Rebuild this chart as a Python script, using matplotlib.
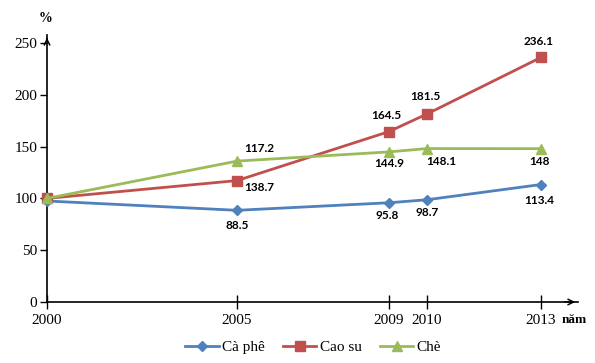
import matplotlib.pyplot as plt

years = [2000, 2005, 2009, 2010, 2013]
ca_phe = [97.5, 88.5, 95.8, 98.7, 113.4]
cao_su = [100, 117.2, 164.5, 181.5, 236.1]
che = [100, 136.0, 144.9, 148.1, 148]

# labels as printed on the original chart
ca_phe_labels = [None, "88.5", "95.8", "98.7", "113.4"]
cao_su_labels = [None, "138.7", "164.5", "181.5", "236.1"]
che_labels = [None, "117.2", "144.9", "148.1", "148"]

W, H = 595, 363
fig = plt.figure(figsize=(W / 100, H / 100), dpi=100)
x0, x1, y0, y1 = 47, 578, 302, 35
ax = fig.add_axes([x0 / W, (H - y0) / H, (x1 - x0) / W, (y0 - y1) / H])
ax.set_xlim(2000, 2000 + (x1 - x0) / 38.0)
ax.set_ylim(0, (y0 - y1) / 1.036)

for s in ['top', 'right']:
    ax.spines[s].set_visible(False)
ax.spines['left'].set_linewidth(1.2)
ax.spines['bottom'].set_linewidth(1.2)
# axis arrows
ax.annotate('', xy=(1, 0), xycoords='axes fraction', xytext=(0.97, 0),
            arrowprops=dict(arrowstyle='->', lw=1.1, color='black'))
ax.annotate('', xy=(0, 1), xycoords='axes fraction', xytext=(0, 0.97),
            arrowprops=dict(arrowstyle='->', lw=1.1, color='black'))

serif = 'Liberation Serif'
ax.set_xticks(years)
ax.set_xticklabels([str(y) for y in years], fontfamily=serif, fontsize=11)
ax.set_yticks([0, 50, 100, 150, 200, 250])
ax.set_yticklabels(['0', '50', '100', '150', '200', '250'], fontfamily=serif, fontsize=11)
ax.tick_params(axis='x', direction='inout', length=10, width=1, pad=4)
ax.tick_params(axis='y', direction='out', length=5, width=1, pad=2)

c_blue, c_red, c_green = '#4F81BD', '#C0504D', '#9BBB59'
ax.plot(years, ca_phe, color=c_blue, lw=2, marker='D', ms=5.5, label='Cà phê', clip_on=False, zorder=3)
ax.plot(years, cao_su, color=c_red, lw=2, marker='s', ms=7, label='Cao su', clip_on=False, zorder=3)
ax.plot(years, che, color=c_green, lw=2, marker='^', ms=7.5, label='Chè', clip_on=False, zorder=4)

lab_kw = dict(textcoords='offset pixels', ha='center', va='center',
              fontsize=8.5, fontweight='bold', fontfamily='Lato')

def put_labels(vals, labels, offsets):
    for x, v, t, off in zip(years, vals, labels, offsets):
        if t:
            ax.annotate(t, (x, v), xytext=off, **lab_kw)

put_labels(ca_phe, ca_phe_labels, [None, (0, -15), (-2, -13), (0, -13), (-2, -16)])
put_labels(cao_su, cao_su_labels, [None, (22, -7), (-3, 16), (-2, 17), (-2, 16)])
put_labels(che, che_labels, [None, (22, 13), (0, -12), (14, -13), (-2, -13)])

fig.text(46 / W, 1 - 18 / H, '%', fontfamily=serif, fontweight='bold', fontsize=10,
         ha='center', va='center')
fig.text(574 / W, 1 - 320 / H, 'năm', fontfamily=serif, fontweight='bold', fontsize=9.5,
         ha='center', va='center')

fig.legend(loc='center', bbox_to_anchor=(313 / W, 1 - 347 / H), ncol=3, frameon=False,
           prop={'family': serif, 'size': 11}, handlelength=2.2, handletextpad=0.2,
           columnspacing=1.2)

fig.savefig('out.png', dpi=100)
